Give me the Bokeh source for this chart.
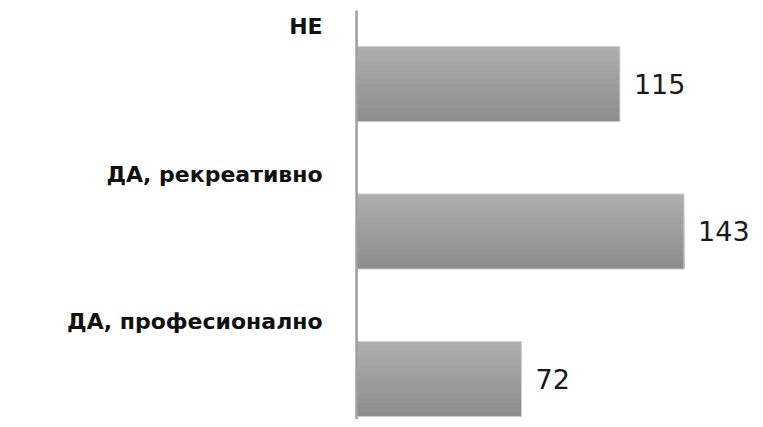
from bokeh.plotting import figure
from bokeh.models import Range1d, ColumnDataSource
from bokeh.core.properties import value
from bokeh.embed import file_html
from bokeh.resources import INLINE

# Data (bottom to top)
categories = ["ДА, професионално", "ДА, рекреативно", "НЕ"]
counts = [72, 143, 115]
count_labels = ["72", "143", "115"]

positions = list(range(len(categories)))

Y0, Y1 = -0.2746, 2.566
p = figure(width=755, height=419, output_backend="svg", toolbar_location=None,
           x_range=Range1d(-155.5, 174.2), y_range=Range1d(Y0, Y1),
           min_border=0, min_border_left=0, min_border_right=0,
           min_border_top=0, min_border_bottom=0)
p.axis.visible = False
p.grid.visible = False
p.outline_line_color = None
p.background_fill_color = "white"

# gradient bars: each layer spans from its top edge down to the bar bottom
bar_h = 0.51
n = 16
top = (0xae, 0xae, 0xae)
bot = (0x8d, 0x8d, 0x8d)
for i in range(n):
    t = i / (n - 1)
    c = tuple(int(round(top[k] + (bot[k] - top[k]) * t)) for k in range(3))
    col = "#%02x%02x%02x" % c
    h = bar_h * (n - i) / n
    ys = [pp - bar_h / 2 + h / 2 for pp in positions]
    p.hbar(y=ys, right=counts, left=0, height=h,
           fill_color=col, line_color=None)

p.hbar(y=positions, right=counts, left=0, height=bar_h,
       fill_alpha=0, line_color="#d2d2d2", line_width=1)

# vertical axis line (starts a little below the top)
p.segment(x0=[0], y0=[Y0], x1=[0], y1=[Y1 - 0.068], line_color="#9e9e9e", line_width=2.5)

src = ColumnDataSource(dict(y=positions, x=counts, lab=count_labels,
                            cat=categories, zero=[0] * len(categories)))

p.text(x="x", y="y", text="lab", source=src, x_offset=14,
       text_baseline="middle", text_align="left",
       text_font=value("DejaVu Sans"), text_font_size="27px", text_color="#1a1a1a")

p.text(x="zero", y="y", text="cat", source=src, x_offset=-34, y_offset=-57,
       text_baseline="middle", text_align="right",
       text_font=value("DejaVu Sans"), text_font_style="bold",
       text_font_size="22px", text_color="#111111")

open("out.html", "w").write(file_html(p, INLINE))
